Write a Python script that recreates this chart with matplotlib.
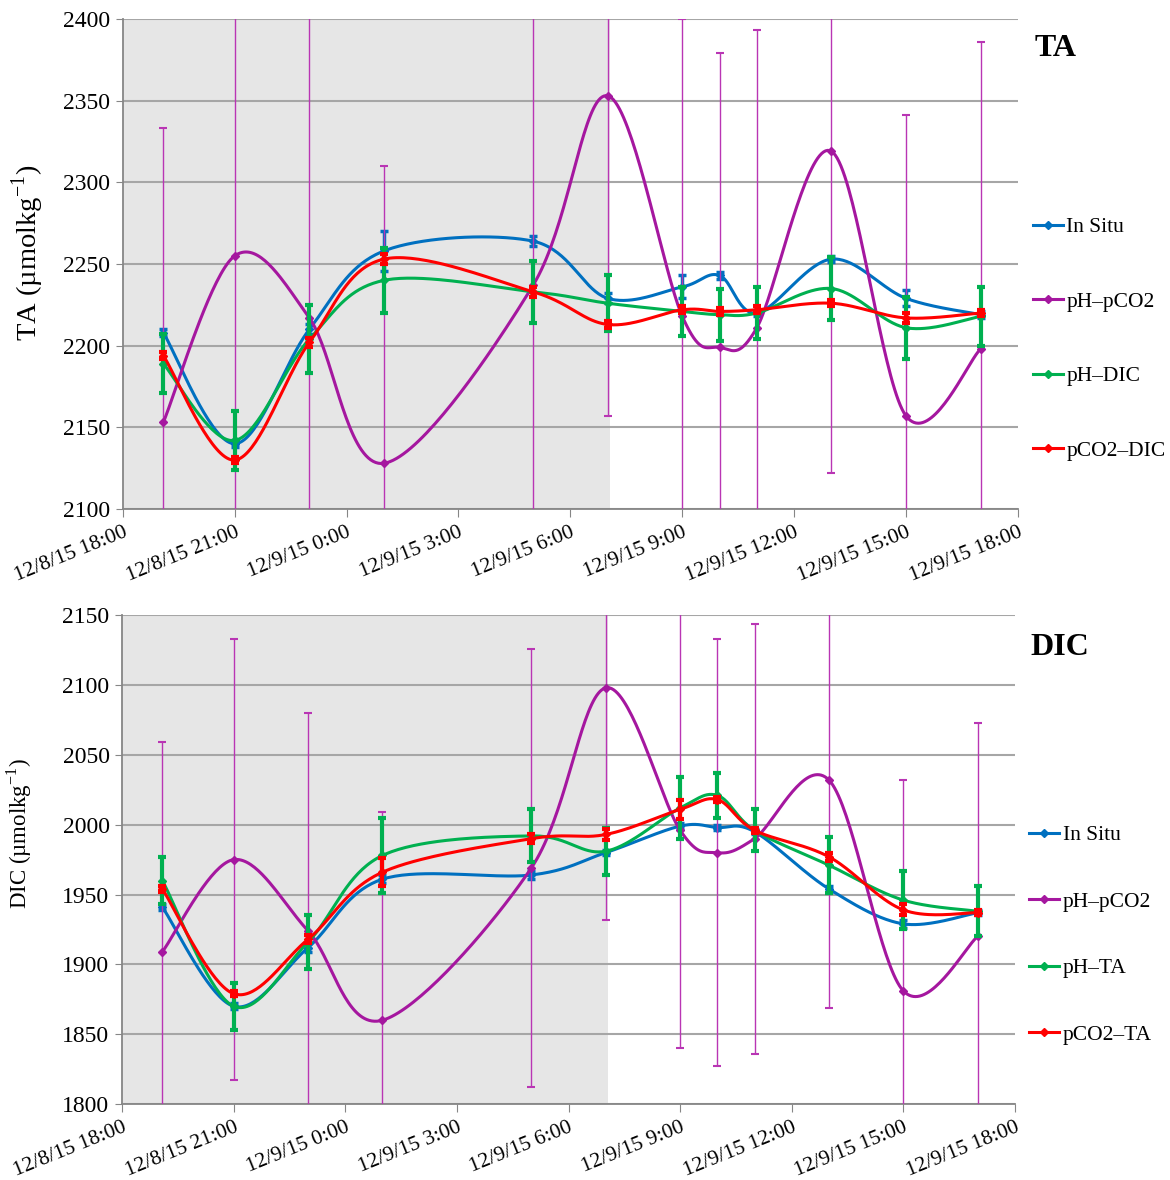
import numpy as np
import pandas as pd
import matplotlib
matplotlib.use('Agg')
import matplotlib.pyplot as plt
import matplotlib.dates as mdates
from matplotlib.lines import Line2D

plt.rcParams['font.family'] = ['Liberation Serif', 'DejaVu Serif']
plt.rcParams['mathtext.fontset'] = 'custom'
plt.rcParams['mathtext.rm'] = 'Liberation Serif'

# sampling times (Dec 8-9 2015)
sample_times = ['2015-12-08 19:05', '2015-12-08 21:00', '2015-12-08 23:00',
                '2015-12-09 01:00', '2015-12-09 05:00', '2015-12-09 07:00',
                '2015-12-09 09:00', '2015-12-09 10:00', '2015-12-09 11:00',
                '2015-12-09 13:00', '2015-12-09 15:00', '2015-12-09 17:00']
night_start = '2015-12-08 18:00'
night_end = '2015-12-09 07:03'
tick_times = pd.date_range('2015-12-08 18:00', '2015-12-09 18:00', freq='3h')
tick_labels = ['12/8/15 18:00', '12/8/15 21:00', '12/9/15 0:00', '12/9/15 3:00',
               '12/9/15 6:00', '12/9/15 9:00', '12/9/15 12:00', '12/9/15 15:00',
               '12/9/15 18:00']

# TA (umol/kg)
ta_insitu = [2208, 2140, 2210, 2258, 2264, 2229, 2236, 2243, 2220, 2253, 2229, 2219]
ta_insitu_err = [2, 2, 3, 12, 3, 3, 7, 2, 2, 2, 5, 2]
ta_ph_pco2 = [2153, 2255, 2217, 2128, 2237, 2353, 2218, 2199, 2211, 2319, 2157, 2198]
ta_ph_pco2_err = [180, 190, 190, 182, 190, 196, 182, 180, 182, 197, 184, 188]
ta_ph_dic = [2189, 2142, 2204, 2240, 2233, 2226, 2221, 2219, 2220, 2235, 2211, 2218]
ta_ph_dic_err = [18, 18, 21, 20, 19, 17, 15, 16, 16, 19, 19, 18]
ta_pco2_dic = [2194, 2130, 2202, 2253, 2233, 2213, 2222, 2221, 2222, 2226, 2217, 2220]
ta_pco2_dic_err = [2, 2, 3, 3, 3, 2, 2, 2, 2, 2, 3, 2]

# DIC (umol/kg)
dic_insitu = [1941, 1870, 1912, 1961, 1964, 1980, 1999, 1998, 1995, 1954, 1929, 1937]
dic_insitu_err = [2, 2, 3, 3, 3, 2, 2, 2, 2, 2, 3, 2]
dic_ph_pco2 = [1909, 1975, 1924, 1860, 1969, 2098, 1996, 1980, 1990, 2032, 1881, 1920]
dic_ph_pco2_err = [150, 158, 156, 149, 157, 166, 156, 153, 154, 163, 151, 153]
dic_ph_ta = [1960, 1870, 1916, 1978, 1992, 1981, 2012, 2021, 1996, 1971, 1946, 1938]
dic_ph_ta_err = [17, 17, 19, 27, 19, 17, 22, 16, 15, 20, 21, 18]
dic_pco2_ta = [1954, 1879, 1918, 1966, 1990, 1993, 2011, 2018, 1996, 1977, 1939, 1937]
dic_pco2_ta_err = [2, 2, 3, 10, 3, 4, 7, 2, 2, 3, 4, 2]

BLUE = '#0070C0'
PURPLE = '#A5179F'
PURPLE_ERR = '#B935B4'
GREEN = '#00B050'
RED = '#FF0000'
GRAY = '#A6A6A6'


def smooth_curve(x, y, n=40):
    """ Bezier smoothing through every point (control arms = 1/6 of neighbour chord) """
    x = np.asarray(x, float)
    y = np.asarray(y, float)
    px = np.concatenate([[x[0]], x, [x[-1]]])
    py = np.concatenate([[y[0]], y, [y[-1]]])
    t = np.linspace(0, 1, n)[:, None]
    out = []
    for i in range(len(x) - 1):
        p_prev = np.array([px[i], py[i]])
        p0 = np.array([px[i + 1], py[i + 1]])
        p3 = np.array([px[i + 2], py[i + 2]])
        p_next = np.array([px[i + 3], py[i + 3]])
        c1 = p0 + (p3 - p_prev) / 6
        c2 = p3 - (p_next - p0) / 6
        seg = ((1 - t) ** 3) * p0 + 3 * ((1 - t) ** 2) * t * c1 + 3 * (1 - t) * t ** 2 * c2 + t ** 3 * p3
        out.append(seg if i == 0 else seg[1:])
    out = np.vstack(out)
    return out[:, 0], out[:, 1]


def draw_panel(ax, series, ylim, yticks, title, title_x, title_y,
               legend_x, legend_y, legend_spacing):
    x = mdates.date2num(pd.to_datetime(sample_times))
    ax.axvspan(mdates.date2num(pd.Timestamp(night_start)),
               mdates.date2num(pd.Timestamp(night_end)),
               color='#E6E6E6', zorder=0, lw=0)
    handles = []
    for z, (label, vals, errs, color, ecolor, elw) in enumerate(series):
        ax.errorbar(x, vals, yerr=errs, fmt='none', ecolor=ecolor, elinewidth=elw,
                    capsize=3, capthick=max(elw, 1.5), zorder=2 + z)
        sx, sy = smooth_curve(x, vals)
        ax.plot(sx, sy, color=color, lw=2.2, zorder=2 + z)
        ax.plot(x, vals, ls='none', marker='D', ms=4.5, color=color, zorder=2 + z)
        handles.append(Line2D([], [], color=color, lw=2.2, marker='D', ms=4, label=label))

    ax.set_xlim(mdates.date2num(tick_times[0]), mdates.date2num(tick_times[-1]))
    ax.set_xticks(mdates.date2num(tick_times))
    ax.set_xticklabels(tick_labels, rotation=22, ha='right', rotation_mode='anchor', fontsize=15.5)
    ax.set_ylim(*ylim)
    ax.set_yticks(yticks)
    ax.tick_params(axis='y', labelsize=17, length=5, color='#868686', pad=4)
    ax.tick_params(axis='x', length=6, color='#868686', pad=4)
    ax.set_axisbelow(True)
    ax.yaxis.grid(True, color=GRAY, lw=1.5)
    for side in ['top', 'right']:
        ax.spines[side].set_visible(False)
    for side in ['left', 'bottom']:
        ax.spines[side].set_color('#868686')
        ax.spines[side].set_linewidth(1.3)
    ax.text(title_x, title_y, title, transform=ax.transAxes, fontsize=23, fontweight='bold',
            ha='left', va='center')
    ax.legend(handles=handles, loc='center left', bbox_to_anchor=(legend_x, legend_y),
              frameon=False, fontsize=15.5, handlelength=1.4, handletextpad=0.15,
              labelspacing=legend_spacing, borderpad=0, borderaxespad=0)


fig = plt.figure(figsize=(11.7, 11.8), dpi=100)
ax_ta = fig.add_axes([0.105, 0.5686, 0.765, 0.4153])
ax_dic = fig.add_axes([0.1043, 0.0644, 0.7632, 0.4142])

draw_panel(ax_ta, [
    ('In Situ', ta_insitu, ta_insitu_err, BLUE, BLUE, 2.5),
    ('pH\u2013pCO2', ta_ph_pco2, ta_ph_pco2_err, PURPLE, PURPLE_ERR, 1.0),
    ('pH\u2013DIC', ta_ph_dic, ta_ph_dic_err, GREEN, GREEN, 3.0),
    ('pCO2\u2013DIC', ta_pco2_dic, ta_pco2_dic_err, RED, RED, 3.0),
], (2100, 2400), range(2100, 2401, 50), 'TA', 1.019, 0.939, 1.017, 0.347, 2.53)

draw_panel(ax_dic, [
    ('In Situ', dic_insitu, dic_insitu_err, BLUE, BLUE, 2.5),
    ('pH\u2013pCO2', dic_ph_pco2, dic_ph_pco2_err, PURPLE, PURPLE_ERR, 1.0),
    ('pH\u2013TA', dic_ph_ta, dic_ph_ta_err, GREEN, GREEN, 3.0),
    ('pCO2\u2013TA', dic_pco2_ta, dic_pco2_ta_err, RED, RED, 3.0),
], (1800, 2150), range(1800, 2151, 50), 'DIC', 1.017, 0.935, 1.016, 0.346, 2.16)

# axis titles
fig.text(0.0239, 0.7856, r'TA (µmolkg$^{-1}$)', rotation=90, fontsize=20.5,
         ha='center', va='center')
fig.text(0.0162, 0.2932, r'DIC (µmolkg$^{-1}$)', rotation=90, fontsize=16.5,
         ha='center', va='center')

fig.savefig('out.png', dpi=100)
